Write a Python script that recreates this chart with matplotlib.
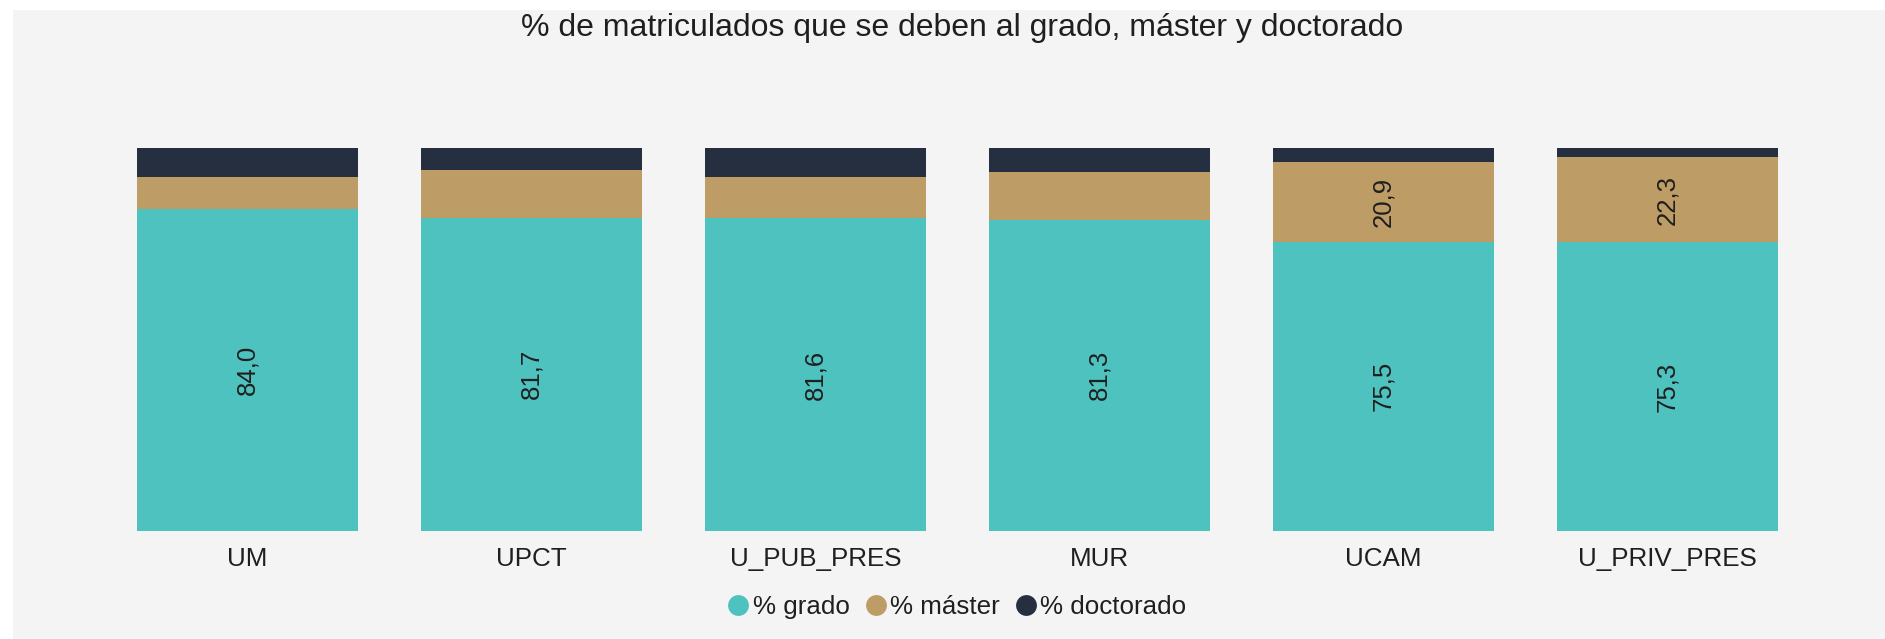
import matplotlib.pyplot as plt
from matplotlib.patches import Rectangle
from matplotlib.lines import Line2D
import numpy as np

universidades = ['UM', 'UPCT', 'U_PUB_PRES', 'MUR', 'UCAM', 'U_PRIV_PRES']
pct_grado = [84.0, 81.7, 81.6, 81.3, 75.5, 75.3]
pct_master = [8.5, 12.6, 10.8, 12.4, 20.9, 22.3]
pct_doctorado = [7.5, 5.7, 7.6, 6.3, 3.6, 2.4]
show_master_label = [False, False, False, False, True, True]

series_names = ['% grado', '% máster', '% doctorado']
colors = ['#4EC2BF', '#BE9C66', '#252F40']
text_color = '#1F1F1F'

plt.rcParams['font.family'] = ['Liberation Sans', 'DejaVu Sans']

W, H = 1885, 639
fig = plt.figure(figsize=(W / 100, H / 100), dpi=100, facecolor='white')

# grey panel behind everything
fig.patches.append(Rectangle((13 / W, 0), 1 - 13 / W, 1 - 10 / H,
                             transform=fig.transFigure, facecolor='#F4F4F4',
                             edgecolor='none', zorder=-10))

ax = fig.add_axes([105.5 / W, 1 - 530.5 / H, 1704 / W, (530.5 - 148) / H])
ax.set_facecolor('none')
ax.set_zorder(1)

x = np.arange(len(universidades))
width = 0.778
grado = np.array(pct_grado)
master = np.array(pct_master)
doct = np.array(pct_doctorado)

ax.bar(x, grado, width, color=colors[0], edgecolor='none')
ax.bar(x, master, width, bottom=grado, color=colors[1], edgecolor='none')
ax.bar(x, doct, width, bottom=grado + master, color=colors[2], edgecolor='none')

fmt = lambda v: f'{v:.1f}'.replace('.', ',')
for i in range(len(x)):
    ax.text(x[i], grado[i] / 2, fmt(grado[i]), rotation=90, ha='center',
            va='center', fontsize=18.5, color=text_color)
    if show_master_label[i]:
        ax.text(x[i], grado[i] + master[i] / 2, fmt(master[i]), rotation=90,
                ha='center', va='center', fontsize=18.5, color=text_color)

ax.set_xlim(-0.5, len(x) - 0.5)
ax.set_ylim(0, 100)
ax.set_xticks(x)
ax.set_xticklabels(universidades, fontsize=18.7, color=text_color)
ax.tick_params(axis='x', length=0, pad=12)
ax.set_yticks([])
for s in ax.spines.values():
    s.set_visible(False)

fig.text(962 / W, 1 - 28 / H, '% de matriculados que se deben al grado, máster y doctorado',
         ha='center', va='center', fontsize=23, color=text_color)

handles = [Line2D([], [], linestyle='none', marker='o', markersize=15,
                  markerfacecolor=c, markeredgecolor='none') for c in colors]
fig.legend(handles, series_names, loc='center', bbox_to_anchor=(957 / W, 1 - 607 / H),
           ncol=3, frameon=False, fontsize=18.7, handlelength=0.8,
           handletextpad=0.15, columnspacing=0.6, labelcolor=text_color)

fig.savefig('out.png', dpi=100, facecolor='white')
